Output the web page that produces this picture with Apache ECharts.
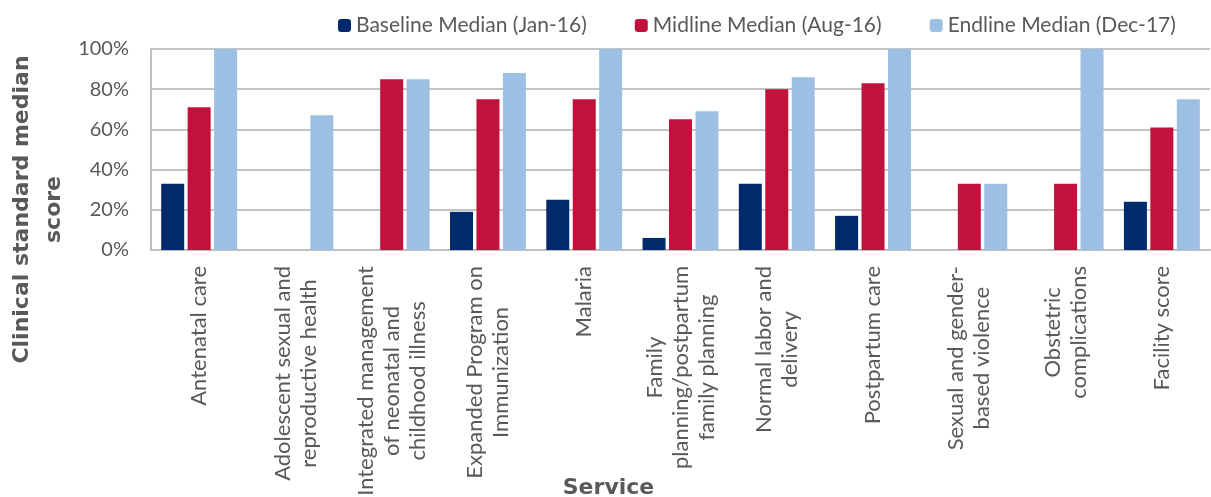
<!DOCTYPE html>
<html>
<head>
<meta charset="utf-8">
<title>Clinical standard median score by service</title>
<script src="https://cdn.jsdelivr.net/npm/echarts@6/dist/echarts.min.js"></script>
<style>
    html, body { margin: 0; padding: 0; background: #fff; }
    #chart { width: 1211px; height: 497px; }
</style>
</head>
<body>
<div id="chart"></div>
<script>
// 数据
var services = [
    'Antenatal care',
    'Adolescent sexual and\nreproductive health',
    'Integrated management\nof neonatal and\nchildhood illness',
    'Expanded Program on\nImmunization',
    'Malaria',
    'Family\nplanning/postpartum\nfamily planning',
    'Normal labor and\ndelivery',
    'Postpartum care',
    'Sexual and gender-\nbased violence',
    'Obstetric\ncomplications',
    'Facility score'
];
var seriesNames = ['Baseline Median (Jan-16)', 'Midline Median (Aug-16)', 'Endline Median (Dec-17)'];
var baseline = [33, 0, 0, 19, 25, 6, 33, 17, 0, 0, 24];
var midline = [71, 0, 85, 75, 75, 65, 80, 83, 33, 33, 61];
var endline = [100, 67, 85, 88, 100, 69, 86, 100, 33, 100, 75];
var yTicks = [0, 20, 40, 60, 80, 100];

var colors = ['#002a6c', '#c2113a', '#9ebfe4'];
var textColor = '#595959';
var fontName = 'Lato';
var boldFont = 'DejaVu Sans';

var chart = echarts.init(document.getElementById('chart'));

function makeBar(name, data, color) {
    return {
        name: name,
        type: 'bar',
        data: data,
        barWidth: 23,
        barGap: '15%',
        animation: false,
        itemStyle: { color: color }
    };
}

var option = {
    backgroundColor: '#fff',
    textStyle: { fontFamily: fontName, color: textColor },
    legend: {
        data: seriesNames,
        left: 333,
        top: 10,
        itemWidth: 13,
        itemHeight: 13,
        itemGap: 48,
        textStyle: { fontFamily: fontName, fontSize: 21, color: textColor }
    },
    grid: {
        left: 151,
        right: 1,
        top: 49,
        bottom: 247,
        outerBoundsMode: 'none',
        containLabel: false
    },
    xAxis: {
        type: 'category',
        data: services,
        name: 'Service',
        nameLocation: 'middle',
        nameGap: 227,
        nameMoveOverlap: false,
        nameTextStyle: {
            fontFamily: boldFont,
            fontSize: 22,
            fontWeight: 'bold',
            color: textColor,
            padding: [0, 144, 0, 0]
        },
        axisLine: { show: true, lineStyle: { color: '#bfbfbf', width: 2 } },
        axisTick: { show: false },
        axisLabel: {
            interval: 0,
            rotate: 90,
            margin: 16,
            formatter: function(v) {
                return '{c|' + v + '}';
            },
            rich: {
                c: {
                    align: 'center',
                    fontFamily: fontName,
                    fontSize: 22,
                    lineHeight: 26,
                    color: textColor
                }
            }
        }
    },
    yAxis: {
        type: 'value',
        min: 0,
        max: 100,
        interval: 20,
        name: 'Clinical standard median\nscore',
        nameLocation: 'middle',
        nameGap: 81,
        nameMoveOverlap: false,
        nameTextStyle: {
            fontFamily: boldFont,
            fontSize: 22,
            fontWeight: 'bold',
            color: textColor,
            lineHeight: 32,
            padding: [0, 120, 0, 0]
        },
        axisLine: { show: true, lineStyle: { color: '#bfbfbf', width: 2 } },
        axisTick: { show: false },
        axisLabel: {
            margin: 22,
            fontFamily: fontName,
            fontSize: 20,
            color: textColor,
            formatter: function(v) {
                return yTicks.indexOf(v) >= 0 ? v + '%' : '';
            }
        },
        splitLine: { show: true, lineStyle: { color: '#c4c4c4', width: 2 } }
    },
    series: [
        makeBar(seriesNames[0], baseline, colors[0]),
        makeBar(seriesNames[1], midline, colors[1]),
        makeBar(seriesNames[2], endline, colors[2])
    ]
};

chart.setOption(option);
</script>
</body>
</html>
